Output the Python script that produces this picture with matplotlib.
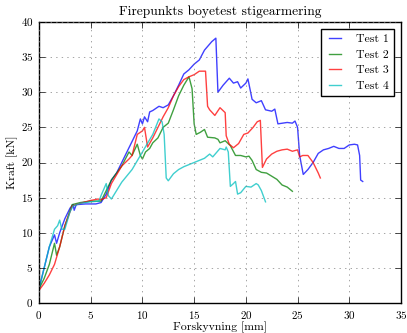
import matplotlib
matplotlib.use('Agg')
import matplotlib.pyplot as plt

# Test 1
x1 = [0, 0.5, 1.0, 1.5, 1.7, 2.0, 2.5, 3.0, 3.3, 3.4, 3.6, 4.5, 5.5, 6.0, 6.5, 7.0, 7.5, 8.0,
      8.5, 9.0, 9.5, 9.8, 10.0, 10.2, 10.5, 10.7, 11.0, 11.6, 12.0, 12.5, 13.0, 13.5, 14.0,
      14.5, 15.0, 15.5, 16.0, 16.7, 17.1, 17.3, 17.8, 18.4, 18.8, 19.2, 19.5, 20.0, 20.2,
      20.6, 21.0, 21.5, 21.9, 22.5, 22.8, 23.1, 24.0, 24.5, 24.75, 25.0, 25.2, 25.55, 26.0,
      26.5, 27.0, 27.5, 28.0, 28.5, 29.0, 29.5, 30.0, 30.5, 30.8, 31.0, 31.1, 31.3]
y1 = [2.0, 5.0, 8.0, 9.7, 8.5, 10.0, 12.0, 13.5, 14.0, 13.2, 14.0, 14.1, 14.1, 14.3, 15.5, 17.5, 18.5, 20.0,
      21.5, 23.0, 24.5, 26.2, 25.5, 26.5, 25.8, 27.2, 27.4, 28.0, 27.8, 28.2, 29.5, 31.0, 32.6,
      33.2, 34.0, 34.6, 36.0, 37.2, 37.7, 30.0, 31.0, 32.0, 31.3, 31.5, 30.6, 31.3, 31.9,
      29.0, 28.5, 28.8, 27.5, 27.3, 27.6, 25.5, 25.7, 25.6, 25.9, 25.0, 21.0, 18.3, 19.0,
      20.0, 21.3, 21.8, 22.0, 22.3, 22.0, 22.0, 22.5, 22.6, 22.5, 21.0, 17.5, 17.3]

# Test 2
x2 = [0, 0.5, 1.0, 1.5, 1.7, 2.0, 2.5, 3.2, 4.0, 5.0, 6.0, 7.0, 8.0, 8.7, 9.0, 9.5, 9.8, 10.0,
      10.3, 10.7, 11.0, 11.5, 12.0, 12.5, 13.0, 13.5, 14.0, 14.5, 14.8, 15.0, 15.2, 15.6,
      16.0, 16.3, 17.0, 17.3, 17.5, 18.0, 18.5, 19.0, 19.5, 20.0, 20.3, 20.6, 21.0, 21.5,
      22.0, 23.0, 23.5, 24.0, 24.5]
y2 = [2.0, 3.5, 5.5, 8.5, 6.8, 8.0, 11.0, 14.0, 14.3, 14.5, 14.5, 17.5, 19.5, 21.5, 21.0, 22.6, 21.0, 20.5,
      21.5, 22.0, 22.8, 23.5, 25.0, 25.6, 27.5, 29.5, 31.0, 32.2, 30.5, 25.5, 24.0, 24.3,
      24.7, 23.6, 23.5, 23.3, 22.8, 23.1, 22.4, 21.0, 21.0, 20.8, 20.9, 20.3, 19.0, 18.6,
      18.5, 17.6, 16.8, 16.5, 15.9]

# Test 3
x3 = [0, 0.5, 1.0, 1.5, 2.0, 2.5, 3.2, 4.0, 5.0, 5.7, 6.0, 6.5, 7.0, 8.0, 8.7, 9.0, 9.5, 10.0,
      10.2, 10.5, 11.0, 11.5, 12.0, 12.5, 13.0, 13.5, 14.0, 14.5, 15.0, 15.5, 16.1, 16.3,
      16.5, 17.0, 17.5, 18.0, 18.1, 18.4, 18.8, 19.3, 19.8, 20.2, 20.7, 21.1, 21.4, 21.6,
      22.0, 22.5, 23.0, 23.5, 24.0, 24.5, 25.0, 25.2, 25.5, 26.0, 26.5, 27.0, 27.2]
y3 = [1.8, 2.8, 4.0, 5.5, 8.0, 11.0, 13.8, 14.2, 14.6, 14.8, 14.7, 15.0, 17.0, 19.5, 20.5, 21.0, 24.0, 24.5,
      25.0, 22.2, 23.5, 25.0, 26.5, 27.8, 29.5, 30.8, 31.8, 32.2, 32.5, 33.0, 33.0, 28.0,
      27.5, 26.7, 27.8, 27.1, 23.8, 22.6, 22.1, 22.7, 24.0, 24.2, 25.0, 25.8, 26.0, 19.3,
      20.5, 21.2, 21.6, 21.8, 21.9, 21.6, 21.8, 20.8, 21.0, 21.0, 20.0, 18.5, 17.8]

# Test 4
x4 = [0, 0.5, 1.0, 1.5, 1.8, 2.0, 2.2, 2.5, 3.0, 3.3, 4.0, 5.0, 5.8, 6.0, 6.5, 6.7, 7.0, 7.5,
      8.0, 9.0, 10.0, 11.0, 11.6, 11.9, 12.1, 12.3, 12.5, 13.0, 13.5, 14.0, 15.0, 16.0, 16.5,
      16.8, 17.5, 18.0, 18.1, 18.3, 18.5, 18.8, 19.0, 19.2, 19.5, 20.0, 20.5, 21.0, 21.2,
      21.5, 21.9]
y4 = [2.0, 5.0, 8.0, 10.5, 11.0, 11.8, 10.5, 10.5, 13.0, 13.8, 14.2, 14.4, 14.5, 15.3, 17.0, 15.3, 14.8, 16.0,
      17.2, 19.0, 21.5, 24.0, 26.2, 25.8, 24.0, 17.8, 17.4, 18.4, 19.0, 19.4, 20.0, 20.6, 21.2,
      20.8, 22.0, 21.8, 22.2, 21.5, 16.6, 17.0, 17.3, 15.5, 15.7, 16.6, 16.5, 17.0, 16.8,
      16.0, 14.4]

plt.style.use('classic')
plt.rcParams['font.family'] = 'cmr10'
plt.rcParams['axes.formatter.use_mathtext'] = True
plt.rcParams['mathtext.fontset'] = 'cm'

fig = plt.figure(figsize=(4.07, 3.33), dpi=100, facecolor='white')
ax = fig.add_axes([39 / 407, 30 / 333, 362 / 407, 281 / 333])

ax.plot(x1, y1, color='b', alpha=0.75, lw=1, label='Test 1')
ax.plot(x2, y2, color='g', alpha=0.75, lw=1, label='Test 2')
ax.plot(x3, y3, color='r', alpha=0.75, lw=1, label='Test 3')
ax.plot(x4, y4, color='c', alpha=0.75, lw=1, label='Test 4')

ax.set_xlim(0, 35)
ax.set_ylim(0, 40)
ax.grid(True, color='0.5', linestyle=':')
ax.tick_params(labelsize=8)
ax.set_title('Firepunkts boyetest stigearmering', fontsize=9.7)
ax.set_xlabel('Forskyvning [mm]', fontsize=8.5, labelpad=1)
ax.set_ylabel('Kraft [kN]', fontsize=8.5, labelpad=2)
ax.legend(loc='upper right', fontsize=8.5, handlelength=1.6, handletextpad=1.0,
          labelspacing=0.45, borderaxespad=0.6)

fig.savefig('out.png', dpi=100, facecolor='white')
